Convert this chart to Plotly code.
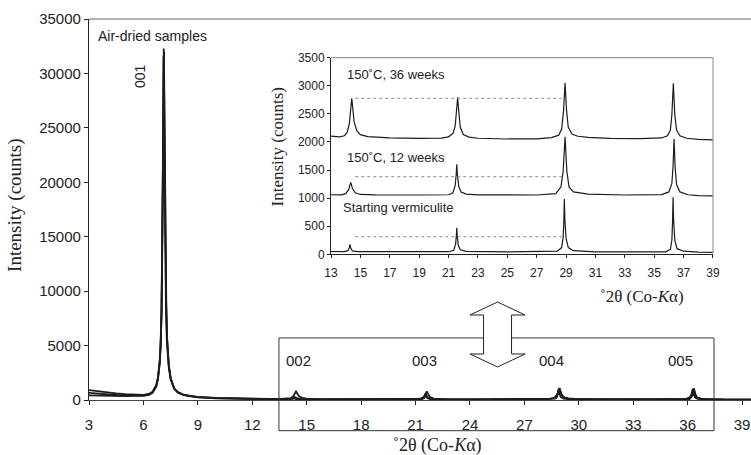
import plotly.graph_objects as go

# ---- XRD patterns (2theta in degrees, counts) ----
start_x = [3.0, 3.5, 4.0, 4.5, 5.0, 5.5, 6.0, 6.3, 6.5, 6.7, 6.8, 6.9, 6.95, 7.0, 7.04,
           7.07, 7.11, 7.15, 7.19, 7.24, 7.29, 7.4, 7.5, 7.6, 7.7, 7.9, 8.2, 8.6, 9.0,
           10.0, 11.0, 12.0, 13.0, 13.9, 14.15, 14.24, 14.29, 14.34, 14.45, 14.8, 17.0,
           21.0, 21.35, 21.48, 21.53, 21.56, 21.59, 21.66, 21.8, 22.2, 25.0, 28.4, 28.7,
           28.8, 28.85, 28.88, 28.92, 29.0, 29.15, 29.5, 31.0, 35.8, 36.1, 36.2, 36.25,
           36.28, 36.32, 36.4, 36.55, 37.0, 38.0, 39.0, 39.5]
start_y = [430, 400, 380, 370, 365, 370, 390, 480, 660, 1200, 1900, 3400, 5000, 8000, 13800,
           21500, 31600, 22800, 14800, 8600, 5400, 3000, 1900, 1350, 1000, 680, 460, 330, 250,
           160, 110, 80, 50, 48, 65, 110, 178, 110, 62, 48, 45,
           46, 70, 180, 330, 473, 330, 160, 80, 52, 42, 55, 120,
           300, 600, 984, 600, 280, 120, 65, 45, 45, 90, 250, 600,
           1014, 600, 250, 100, 55, 38, 30, 30]

wk12_x = [3.0, 3.5, 4.0, 4.5, 5.0, 5.5, 6.0, 6.3, 6.5, 6.7, 6.8, 6.9, 6.95, 7.0, 7.05,
          7.09, 7.13, 7.17, 7.21, 7.26, 7.31, 7.4, 7.5, 7.6, 7.7, 7.9, 8.2, 8.6, 9.0,
          10.0, 11.0, 12.0, 13.0, 13.7, 14.0, 14.2, 14.34, 14.46, 14.65, 15.0, 16.0,
          19.0, 21.0, 21.3, 21.45, 21.52, 21.56, 21.6, 21.7, 21.85, 22.2, 23.0, 27.0,
          28.3, 28.65, 28.8, 28.93, 29.05, 29.2, 29.5, 30.5, 33.0, 35.5, 36.0, 36.2,
          36.28, 36.35, 36.42, 36.52, 36.75, 37.3, 38.0, 39.0, 39.5]
wk12_y = [650, 570, 510, 460, 430, 410, 420, 510, 700, 1250, 1950, 3500, 5100, 8200, 14200,
          22000, 32000, 23000, 15000, 8800, 5500, 3200, 2000, 1400, 1050, 700, 480, 350, 270,
          180, 130, 100, 60, 58, 80, 150, 281, 170, 95, 65, 58,
          55, 60, 95, 220, 420, 601, 420, 200, 110, 70, 58, 55,
          80, 200, 480, 1092, 480, 200, 110, 70, 55, 62, 110, 260,
          560, 1051, 560, 240, 110, 60, 45, 37, 35]

wk36_x = [3.0, 3.5, 4.0, 4.5, 5.0, 5.5, 6.0, 6.3, 6.5, 6.7, 6.8, 6.9, 6.95, 7.0, 7.05,
          7.08, 7.12, 7.16, 7.2, 7.25, 7.3, 7.4, 7.5, 7.6, 7.7, 7.9, 8.2, 8.6, 9.0,
          10.0, 11.0, 12.0, 13.0, 13.6, 13.9, 14.1, 14.25, 14.35, 14.41, 14.47, 14.57,
          14.75, 15.0, 15.5, 17.0, 19.0, 20.5, 21.0, 21.3, 21.45, 21.55, 21.62, 21.69,
          21.8, 22.0, 22.4, 23.0, 25.0, 27.0, 28.0, 28.5, 28.7, 28.83, 28.93, 29.03,
          29.15, 29.4, 29.8, 30.5, 32.0, 34.0, 35.5, 35.9, 36.1, 36.2, 36.3, 36.4,
          36.52, 36.75, 37.2, 38.0, 39.0, 39.5]
wk36_y = [900, 780, 680, 600, 540, 490, 470, 560, 760, 1350, 2050, 3700, 5300, 8600, 15200,
          22500, 32300, 24000, 15800, 9200, 5800, 3100, 2000, 1400, 1050, 720, 500, 370, 290,
          200, 150, 120, 95, 90, 110, 170, 330, 640, 776, 620, 360,
          200, 130, 95, 70, 62, 68, 90, 150, 280, 560, 794, 560,
          260, 130, 85, 65, 52, 55, 75, 120, 230, 560, 1053, 560,
          260, 140, 100, 80, 62, 58, 70, 110, 210, 480, 1043, 480,
          210, 110, 65, 45, 34, 32]

sample_names = ["Starting vermiculite", "150˚C, 12 weeks", "150˚C, 36 weeks"]
inset_offsets = [0, 1000, 2000]
ref_levels = [313, 1381, 2776]
ref_span = [14.65, 28.7]
peak_labels = ["002", "003", "004", "005"]
peak_label_x = [14.55, 21.47, 28.52, 35.58]

SANS = "Liberation Sans, Arial, sans-serif"
SERIF = "Liberation Serif, Times New Roman, serif"
XR = [3, 39.49]
YR = [0, 35000]


def paper(x, y):
    return (x - XR[0]) / (XR[1] - XR[0]), (y - YR[0]) / (YR[1] - YR[0])


fig = go.Figure()

series = [(start_x, start_y), (wk12_x, wk12_y), (wk36_x, wk36_y)]

# main panel: all three patterns overlaid
for (xs, ys), name in zip(series, sample_names):
    fig.add_trace(go.Scatter(x=xs, y=ys, mode="lines", name=name,
                             line=dict(color="#1c1c1c", width=1.8)))

# inset: stacked patterns
for (xs, ys), off in zip(series, inset_offsets):
    fig.add_trace(go.Scatter(x=xs, y=[v + off for v in ys], mode="lines",
                             xaxis="x2", yaxis="y2",
                             line=dict(color="#1c1c1c", width=1.2)))

for lvl in ref_levels:
    fig.add_trace(go.Scatter(x=ref_span, y=[lvl, lvl], mode="lines",
                             xaxis="x2", yaxis="y2",
                             line=dict(color="#8a8a8a", width=1, dash="dot")))

# shapes: top border of main panel, frame of the inset, zoom box and arrow
shapes = [
    dict(type="line", xref="paper", yref="paper", x0=0, x1=1, y0=1, y1=1,
         line=dict(color="#9a9a9a", width=1.5)),
    dict(type="line", xref="x2 domain", yref="y2 domain", x0=0, x1=1, y0=1, y1=1,
         line=dict(color="#9a9a9a", width=1.2)),
    dict(type="line", xref="x2 domain", yref="y2 domain", x0=1, x1=1, y0=0, y1=1,
         line=dict(color="#9a9a9a", width=1.2)),
]
bx0, by0 = paper(13.47, -2820)
bx1, by1 = paper(37.45, 5700)
shapes.append(dict(type="rect", xref="paper", yref="paper", x0=bx0, x1=bx1, y0=by0, y1=by1,
                   line=dict(color="#333", width=1)))

ac, head, shaft = 25.52, 1.516, 0.772
arrow_pts = [(ac, 9003), (ac + head, 7808), (ac + shaft, 7808), (ac + shaft, 4226),
             (ac + head, 4226), (ac, 3031), (ac - head, 4226), (ac - shaft, 4226),
             (ac - shaft, 7808), (ac - head, 7808)]
pp = [paper(x, y) for x, y in arrow_pts]
path = "M " + " L ".join(f"{px:.5f},{py:.5f}" for px, py in pp) + " Z"
shapes.append(dict(type="path", xref="paper", yref="paper", path=path,
                   fillcolor="white", line=dict(color="#222", width=1)))

annotations = [
    dict(x=3.39, y=33438, xref="x", yref="y", text="Air-dried samples", showarrow=False,
         xanchor="left", yanchor="middle", font=dict(family=SANS, size=14, color="#222")),
    dict(x=5.81, y=29764, xref="x", yref="y", text="001", showarrow=False, textangle=-90,
         xanchor="center", yanchor="middle", font=dict(family=SANS, size=14, color="#222")),
    dict(x=-0.1118, y=0.512, xref="paper", yref="paper", text="Intensity (counts)",
         showarrow=False, textangle=-90, xanchor="center", yanchor="middle",
         font=dict(family=SERIF, size=19, color="#222")),
    dict(x=0.5264, y=-0.1207, xref="paper", yref="paper", text="˚2θ (Co-<i>K</i>α)",
         showarrow=False, xanchor="center", yanchor="middle",
         font=dict(family=SERIF, size=18, color="#222")),
    dict(x=-0.1414, y=0.543, xref="x2 domain", yref="y2 domain", text="Intensity (counts)",
         showarrow=False, textangle=-90, xanchor="center", yanchor="middle",
         font=dict(family=SERIF, size=17, color="#222")),
    dict(x=0.813, y=-0.212, xref="x2 domain", yref="y2 domain", text="˚2θ (Co-<i>K</i>α)",
         showarrow=False, xanchor="center", yanchor="middle",
         font=dict(family=SERIF, size=17, color="#222")),
]
for lab, lx in zip(peak_labels, peak_label_x):
    annotations.append(dict(x=lx, y=3610, xref="x", yref="y", text=lab, showarrow=False,
                            xanchor="center", yanchor="middle",
                            font=dict(family=SANS, size=15, color="#222")))

inset_label_pos = [(13.68, 829), (13.95, 1719), (13.95, 3208)]
for name, (lx, ly) in zip(sample_names, inset_label_pos):
    annotations.append(dict(x=lx, y=ly, xref="x2", yref="y2", text=name, showarrow=False,
                            xanchor="left", yanchor="middle",
                            font=dict(family=SANS, size=13, color="#222")))

axis_common = dict(showgrid=False, zeroline=False, showline=True, ticks="outside",
                   tickcolor="#222", tickformat="d", automargin=False)

fig.update_layout(
    width=751, height=455,
    template="none",
    showlegend=False,
    paper_bgcolor="white", plot_bgcolor="white",
    margin=dict(l=89, r=0, t=19, b=55, autoexpand=False),
    xaxis=dict(range=XR, tick0=3, dtick=3, ticklen=4, linecolor="#444", linewidth=1.2,
               ticklabelstandoff=7,
               tickfont=dict(family=SANS, size=15, color="#222"), **axis_common),
    yaxis=dict(range=YR, dtick=5000, ticklen=4, linecolor="#222", linewidth=1.2,
               tickfont=dict(family=SANS, size=15, color="#222"), **axis_common),
    xaxis2=dict(domain=[0.3656, 0.9426], anchor="y2", range=[13, 39], tick0=13, dtick=2,
                ticklen=3, linecolor="#222", linewidth=1, ticklabelstandoff=4,
                tickfont=dict(family=SANS, size=12, color="#222"), **axis_common),
    yaxis2=dict(domain=[0.3824, 0.8987], anchor="x2", range=[0, 3500], dtick=500,
                ticklen=3, linecolor="#222", linewidth=1,
                tickfont=dict(family=SANS, size=12, color="#222"), **axis_common),
    shapes=shapes,
    annotations=annotations,
)

# page body has a default 8px margin; drop it so the figure sits at the window origin
fig.write_html("out.html", config={"displayModeBar": False},
               post_script="document.body.style.margin='0';")
